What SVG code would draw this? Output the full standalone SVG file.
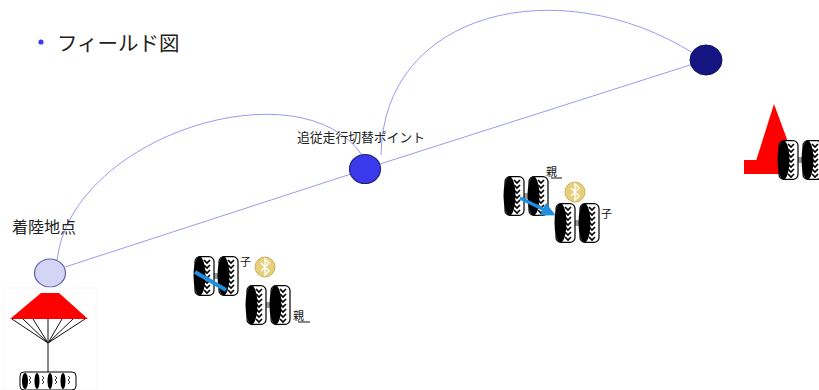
<svg xmlns="http://www.w3.org/2000/svg" xmlns:xlink="http://www.w3.org/1999/xlink" width="819" height="390" viewBox="0 0 819 390">
  <style>
    .ttl { font-family: "Noto Sans CJK JP", "Noto Sans", sans-serif; fill: #222; }
    .lbl { font-family: "Noto Sans CJK JP", "Noto Sans", sans-serif; fill: #222; }
    .tag { font-family: "Noto Sans CJK JP", sans-serif; font-size: 11px; fill: #111; }
    .link { fill: none; stroke: #9a9af2; stroke-width: 1; }
    .axle { fill: #999; }
    .cord { stroke: #111; stroke-width: 1; fill: none; }
  </style>
  <defs>
    <!-- one tyre seen at an angle: dark side wall on the left, chevron tread on the right -->
    <symbol id="wheel" viewBox="0 0 22 40" width="22" height="40">
      <rect x="2" y="0.6" width="19" height="38.8" rx="5" fill="#fff" stroke="#000" stroke-width="1.2"/>
      <ellipse cx="6.5" cy="20" rx="6" ry="19.4" fill="#000"/>
      <path d="M11,4 l3,3 l3,-3 M11,9 l3,3 l3,-3 M11,14 l3,3 l3,-3 M11,19 l3,3 l3,-3 M11,24 l3,3 l3,-3 M11,29 l3,3 l3,-3 M11,34 l3,3 l3,-3" fill="none" stroke="#000" stroke-width="1.7"/>
    </symbol>
    <!-- two tyres joined by an axle -->
    <symbol id="pair" viewBox="0 0 46 40" width="46" height="40">
      <rect class="axle" x="19" y="17" width="8" height="6"/>
      <use xlink:href="#wheel" x="0" y="0"/>
      <use xlink:href="#wheel" x="24" y="0"/>
    </symbol>
    <!-- radio link badge -->
    <symbol id="bt" viewBox="-11 -11 22 22" width="22" height="22">
      <circle r="10" fill="#e6d07c" stroke="#c9b15e" stroke-width="1"/>
      <path d="M-4,-4 L4,4 L0,8 L0,-8 L4,-4 L-4,4" fill="none" stroke="#fff" stroke-width="1.4"/>
    </symbol>
    <marker id="head" viewBox="0 0 10 10" refX="8" refY="5" markerWidth="4" markerHeight="4" orient="auto">
      <path d="M0,0 L10,5 L0,10 z" fill="#1e90e0"/>
    </marker>
  </defs>

  <!-- heading -->
  <circle cx="41" cy="42" r="2.6" fill="#3a3ae8"/>
  <text class="ttl" x="57" y="51" font-size="20.5">フィールド図</text>

  <!-- connectors -->
  <g id="connectors">
    <line class="link" x1="65" y1="267" x2="351" y2="174"/>
    <line class="link" x1="380" y1="164" x2="690" y2="65"/>
    <path class="link" d="M57,260 C72,135 300,65 362,155"/>
    <path class="link" d="M381,155 C383,10 560,-30 693,53"/>
  </g>

  <!-- nodes -->
  <g id="landing">
    <ellipse cx="50" cy="273" rx="15.5" ry="14" fill="#d4d4f7" stroke="#6060a8" stroke-width="1.2"/>
    <text class="lbl" x="12" y="233" font-size="16">着陸地点</text>
  </g>
  <g id="switch-point">
    <ellipse cx="365" cy="169" rx="15.5" ry="14.5" fill="#3a3aec" stroke="#26267c" stroke-width="1.2"/>
    <text class="lbl" x="297" y="142" font-size="12.8">追従走行切替ポイント</text>
  </g>
  <g id="goal">
    <ellipse cx="706" cy="60" rx="16" ry="15" fill="#151582" stroke="#0c0c60" stroke-width="1"/>
  </g>

  <!-- parachute lowering the rover -->
  <g id="parachute">
    <rect x="4" y="288" width="93" height="102" fill="#fff" stroke="#f8f8f8" stroke-width="1"/>
    <polygon points="41,293 59,293 88,319 10,319" fill="#ff0000"/>
    <path class="cord" d="M12,319 L48,343 M23,319 L48,343 M33,319 L48,343 M48,319 L48,372 M62,319 L48,343 M73,319 L48,343 M85,319 L48,343"/>
    <rect x="20" y="372" width="56" height="18" rx="4" fill="#fff" stroke="#000" stroke-width="1"/>
    <ellipse cx="25" cy="381" rx="3" ry="8" fill="#000"/>
    <ellipse cx="37" cy="381" rx="2.5" ry="8" fill="#000"/>
    <ellipse cx="50" cy="381" rx="2.5" ry="8" fill="#000"/>
    <ellipse cx="63" cy="381" rx="2.5" ry="8" fill="#000"/>
    <path d="M29,376 l2,2 l-2,2 l2,2 l-2,2 M42,376 l2,2 l-2,2 l2,2 l-2,2 M55,376 l2,2 l-2,2 l2,2 l-2,2 M68,376 l2,2 l-2,2 l2,2 l-2,2" fill="none" stroke="#000" stroke-width="0.8"/>
  </g>

  <!-- rovers before the switch: child leads, parent follows -->
  <g id="rovers-start">
    <use xlink:href="#pair" x="193" y="256"/>
    <line x1="195" y1="272" x2="226" y2="290" stroke="#1e8fe0" stroke-width="4"/>
    <text class="tag" x="240" y="266">子</text>
    <use xlink:href="#bt" x="254" y="256"/>
    <use xlink:href="#pair" x="245" y="285"/>
    <text class="tag" x="293" y="320">親</text>
    <line x1="298" y1="322" x2="310" y2="322" stroke="#111" stroke-width="1"/>
  </g>

  <!-- rovers after the switch: parent leads, child follows -->
  <g id="rovers-follow">
    <use xlink:href="#pair" x="503" y="176"/>
    <text class="tag" x="546" y="176">親</text>
    <line x1="551" y1="178" x2="562" y2="178" stroke="#111" stroke-width="1"/>
    <use xlink:href="#bt" x="564" y="181"/>
    <line x1="520" y1="198" x2="553" y2="214" stroke="#1e8fe0" stroke-width="3.5" marker-end="url(#head)"/>
    <use xlink:href="#pair" x="554" y="203"/>
    <text class="tag" x="601" y="218">子</text>
  </g>

  <!-- goal cone with a rover behind it -->
  <g id="cone">
    <polygon points="774,104 756,161 795,161" fill="#ff0000"/>
    <rect x="744" y="160" width="50" height="14" fill="#ff0000"/>
    <use xlink:href="#pair" x="777" y="140"/>
  </g>
</svg>
